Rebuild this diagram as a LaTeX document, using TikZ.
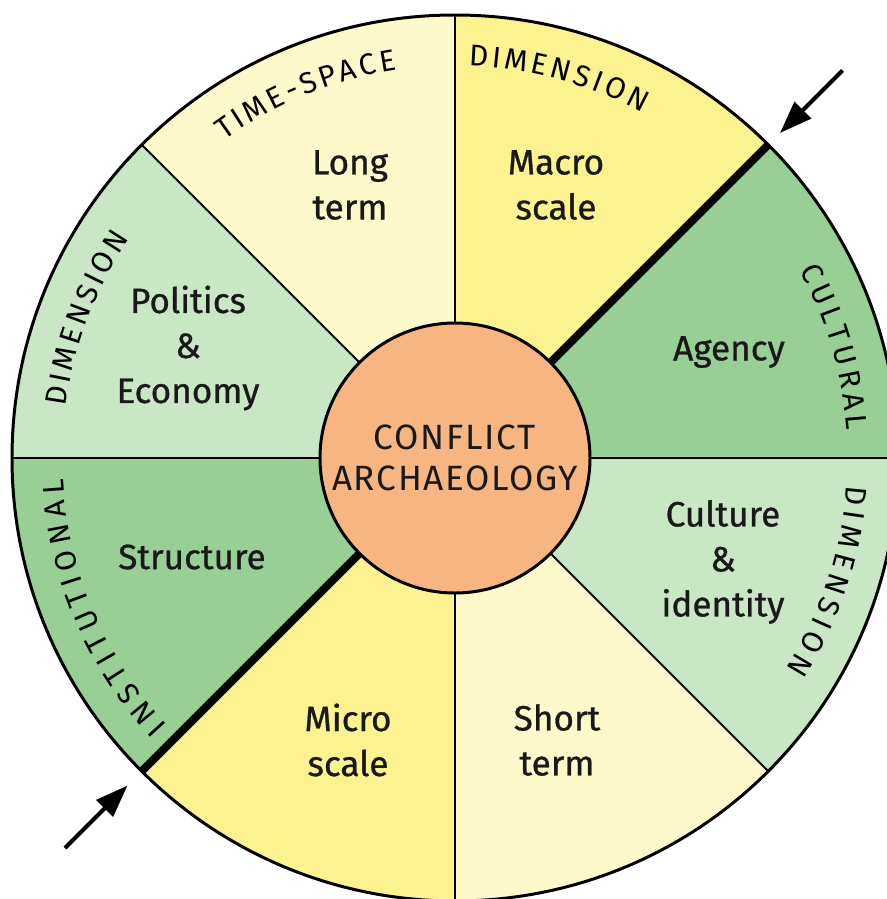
\documentclass[tikz,border=0pt]{standalone}
\usepackage{fontspec}
\setmainfont{Fira Sans}
\usetikzlibrary{arrows.meta, decorations.text}
\definecolor{paleyellow}{HTML}{FEF9CA}
\definecolor{sunyellow}{HTML}{FDF290}
\definecolor{palegreen}{HTML}{C9E6C5}
\definecolor{leafgreen}{HTML}{98CF95}
\definecolor{coreorange}{HTML}{F7B681}
\newcommand{\rimfont}{\fontsize{17}{20}\selectfont}

\begin{document}
\begin{tikzpicture}[
    divider/.style={draw=black, line width=1.1pt},
    axis/.style={draw=black, line width=4.6pt},
    lbl/.style={font=\fontsize{20}{25.6}\selectfont\addfontfeature{FakeBold=0.8}, align=center, text=black!90},
    rim/.style={decorate, decoration={text along path, text align={fit to path},
        text={|\rimfont|#1}}},
    arr/.style={-{Triangle[length=6.5mm, width=4.6mm]}, line width=2.3pt},
]
\useasboundingbox (-9.1,-8.82) rectangle (8.62,9.16);

% Wheel sectors, clockwise from the top
\foreach \a/\col in {90/sunyellow, 45/leafgreen, 0/palegreen, -45/paleyellow,
                     -90/sunyellow, -135/leafgreen, 180/palegreen, 135/paleyellow} {
    \fill[\col] (0,0) -- (\a:8.86) arc[start angle=\a, end angle=\a-45, radius=8.86] -- cycle;
}
\foreach \a in {0, 90, 135, 180, 270, 315} {
    \draw[divider] (0,0) -- (\a:8.86);
}
\draw[axis] (45:2.6) -- (45:8.86);
\draw[axis] (225:2.6) -- (225:8.86);
\draw[line width=1.7pt] (0,0) circle (8.86);

% Hub
\node[circle, draw, line width=1.7pt, fill=coreorange, minimum size=5.4cm, inner sep=0pt,
      font=\fontsize{20}{23.3}\selectfont\addfontfeature{LetterSpace=5}, align=center, text=black!90] (core) at (0,0)
      {CONFLICT\\ARCHAEOLOGY};

% Sector labels
\node[lbl] (macro) at (2.02,5.46) {Macro\\scale};
\node[lbl] (agency) at (5.48,2.12) {Agency};
\node[lbl] (culture) at (5.36,-2.08) {Culture\\\&\\identity};
\node[lbl] (short) at (2.04,-5.64) {Short\\term};
\node[lbl] (micro) at (-2.14,-5.64) {Micro\\scale};
\node[lbl] (structure) at (-5.26,-1.98) {Structure};
\node[lbl] (politics) at (-5.34,2.2) {Politics\\\&\\Economy};
\node[lbl] (long) at (-2.1,5.46) {Long\\term};

% Dimension names round the rim
\path[rim=TIME-SPACE] (126:7.85) arc[start angle=126, end angle=98.5, radius=7.85];
\path[rim=DIMENSION] (88:7.85) arc[start angle=88, end angle=61.5, radius=7.85];
\path[rim=CULTURAL] (28.5:7.85) arc[start angle=28.5, end angle=4, radius=7.85];
\path[rim=DIMENSION] (-4:7.85) arc[start angle=-4, end angle=-32.5, radius=7.85];
\path[rim=INSTITUTIONAL] (223:7.85) arc[start angle=223, end angle=183, radius=7.85];
\path[rim=DIMENSION] (172.5:7.85) arc[start angle=172.5, end angle=146, radius=7.85];

% Arrows onto the axis
\coordinate (ne tail) at (7.75,7.75);
\coordinate (ne tip) at (6.5,6.5);
\coordinate (sw tail) at (-7.8,-7.8);
\coordinate (sw tip) at (-6.55,-6.55);
\draw[arr] (ne tail) -- (ne tip);
\draw[arr] (sw tail) -- (sw tip);

\end{tikzpicture}
\end{document}
